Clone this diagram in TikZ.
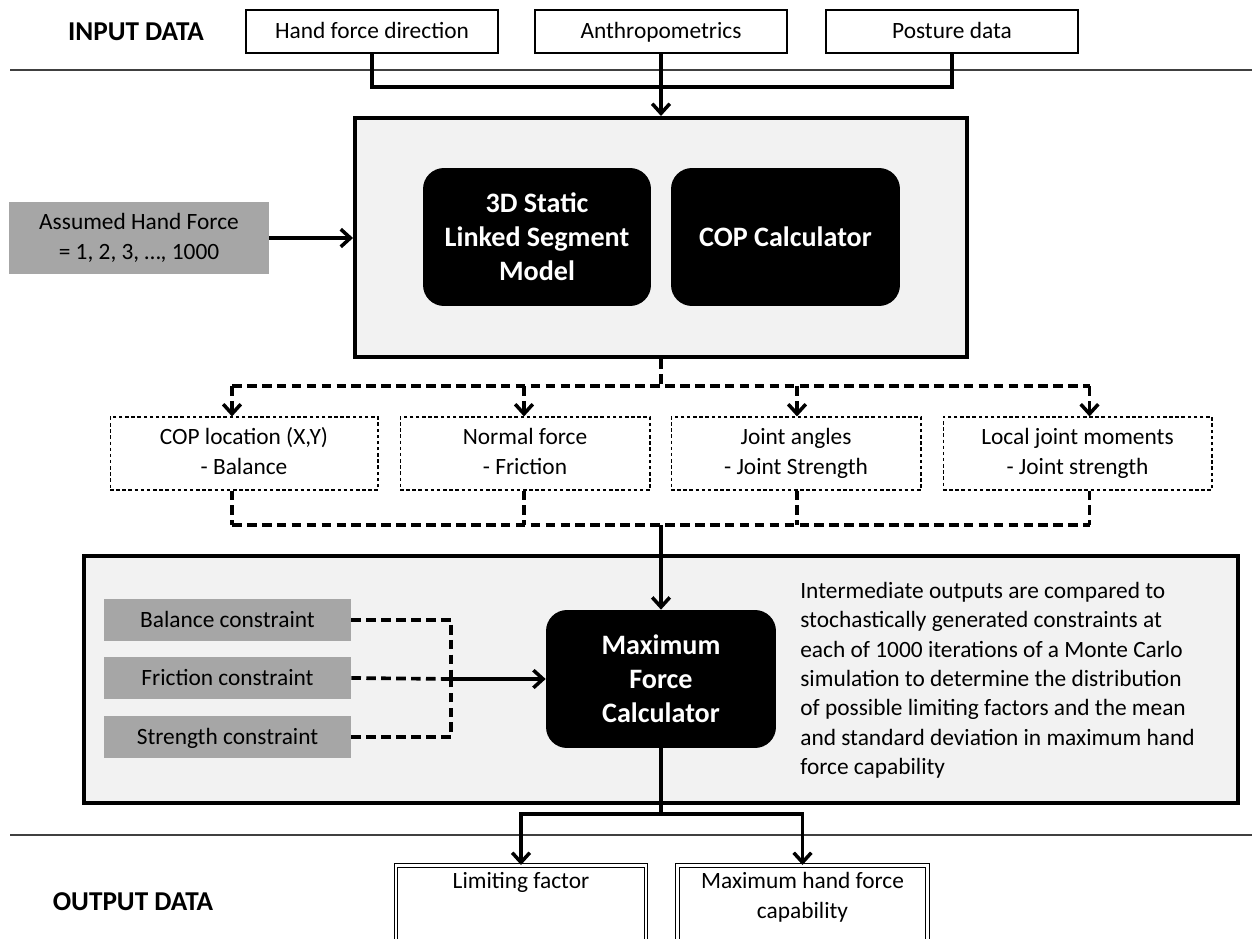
\documentclass[tikz,border=0pt]{standalone}
\usepackage{fontspec}
\setmainfont{Carlito}
\usepackage{xcolor}
\usepackage{tikz}
\usetikzlibrary{positioning, arrows.meta, calc}
\definecolor{panelgray}{HTML}{F2F2F2}
\definecolor{constrgray}{HTML}{A6A6A6}
\definecolor{rulegray}{HTML}{404040}

\begin{document}
\begin{tikzpicture}[x=0.02cm, y=-0.02cm,
  regular/.style={font=\fontsize{13.3}{16.8}\selectfont},
  heading/.style={font=\bfseries\fontsize{15.5}{18}\selectfont},
  inputbox/.style={draw, line width=1pt, regular, minimum width=5.04cm, minimum height=0.86cm,
                   text height=10.5pt, text depth=2.5pt},
  panel/.style={draw, fill=panelgray, line width=2.3pt},
  calcbox/.style={fill=black, text=white, rounded corners=0.42cm, align=center,
                  font=\bfseries\fontsize{16}{19.3}\selectfont},
  constrbox/.style={fill=constrgray, regular, minimum width=4.94cm, minimum height=0.86cm,
                    text height=10.5pt, text depth=2.5pt},
  dashbox/.style={draw, line width=0.6pt, dash pattern=on 2pt off 1.5pt, align=center,
                  regular, minimum height=1.46cm},
  outbox/.style={draw, double, double distance=1.3pt, line width=0.7pt, regular,
                 inner xsep=0.2cm, inner ysep=4pt, anchor=north},
  solidline/.style={line width=2.1pt},
  dashline/.style={line width=2.1pt, dash pattern=on 5.5pt off 3pt},
  headarrow/.style={-{Straight Barb[length=5.5pt,width=10pt,line width=2pt]}},
]
  \clip (0,0) rectangle (1252,939);

  % section rules and titles
  \draw[rulegray, line width=0.8pt] (10,70) -- (1252,70);
  \draw[rulegray, line width=0.8pt] (10,835) -- (1252,835);
  \node[heading] (indata) at (136,32) {INPUT DATA};
  \node[heading] (outdata) at (133,902) {OUTPUT DATA};

  % inputs
  \node[inputbox] (hfd)  at (372,31.5) {Hand force direction};
  \node[inputbox] (anth) at (661,31.5) {Anthropometrics};
  \node[inputbox] (post) at (952,31.5) {Posture data};

  % model panel
  \node[panel, minimum width=12.24cm, minimum height=4.78cm] (model) at (661,237.5) {};
  \node[calcbox, minimum width=4.56cm, minimum height=2.76cm] (lsm) at (537,237) {3D Static\\Linked Segment\\Model};
  \node[calcbox, minimum width=4.58cm, minimum height=2.76cm] (copc) at (785.5,237) {COP Calculator};
  \node[fill=constrgray, minimum width=5.2cm, minimum height=1.44cm, align=center,
        font=\fontsize{13.3}{17.2}\selectfont] (ahf) at (139,238) {Assumed Hand Force\\= 1, 2, 3, \dots, 1000};

  \coordinate (injoin) at (661,87);
  \draw[solidline] (hfd.south) |- (injoin) -| (post.south);
  \draw[solidline, headarrow] (anth.south) -- (model.north);
  \draw[solidline, headarrow] (ahf.east) -- (ahf.east -| model.west);

  % intermediate outputs
  \node[dashbox, minimum width=5.36cm] (copl) at (244,453.5) {\strut COP location (X,Y)\\\strut - Balance};
  \node[dashbox, minimum width=5.0cm] (nrm) at (525,453.5) {\strut Normal force\\\strut - Friction};
  \node[dashbox, minimum width=5.0cm] (ang) at (796,453.5) {\strut Joint angles\\\strut - Joint Strength};
  \node[dashbox, minimum width=5.38cm] (ljm) at (1077.5,453.5) {\strut Local joint moments\\\strut - Joint strength};

  \coordinate (dsplit) at (661,386);
  \coordinate (dmerge) at (661,525);
  \draw[dashline] (model.south) -- (dsplit);
  \foreach \b/\dx in {copl/-12, nrm/-1, ang/1, ljm/12} {
    \coordinate (top\b) at ($(\b.north)+(\dx,0)$);
    \coordinate (bot\b) at ($(\b.south)+(\dx,0)$);
    \draw[dashline, headarrow] (top\b |- dsplit) -- (top\b);
    \draw[dashline] (bot\b) -- (bot\b |- dmerge);
  }
  \draw[dashline] (topcopl |- dsplit) -- (topljm |- dsplit);
  \draw[dashline] (botcopl |- dmerge) -- (botljm |- dmerge);

  % constraint panel
  \node[panel, minimum width=23.08cm, minimum height=4.94cm] (mcpanel) at (661,679.5) {};
  \node[calcbox, minimum width=4.6cm, minimum height=2.76cm] (maxf) at (661,679) {Maximum\\Force\\Calculator};
  \node[constrbox] (bal)  at (227.5,620) {Balance constraint};
  \node[constrbox] (fric) at (227.5,678) {Friction constraint};
  \node[constrbox] (strc) at (227.5,737) {Strength constraint};
  \node[anchor=north west, align=left, inner sep=0pt, regular,
        font=\fontsize{13.3}{16.7}\selectfont] (note) at (800,582)
    {Intermediate outputs are compared to\\
     stochastically generated constraints at\\
     each of 1000 iterations of a Monte Carlo\\
     simulation to determine the distribution\\
     of possible limiting factors and the mean\\
     and standard deviation in maximum hand\\
     force capability};

  \draw[solidline, headarrow] (dmerge) -- (maxf.north);
  \coordinate (cjoin) at (451,679);
  \draw[dashline] (bal.east) -| (cjoin);
  \draw[dashline] (strc.east) -| (cjoin);
  \draw[dashline] (fric.east) -- (cjoin);
  \draw[solidline, headarrow] (cjoin) -- (maxf.west);

  % outputs
  \node[outbox] (limf) at (521,865) {\parbox[t][1.8cm][t]{4.6cm}{\centering Limiting factor}};
  \node[outbox] (mhfc) at (802.5,865) {\parbox[t][1.8cm][t]{4.6cm}{\centering Maximum hand force\\capability}};

  \coordinate (osplit) at (661,814);
  \draw[solidline] (maxf.south) -- (osplit);
  \draw[solidline, headarrow] (osplit) -| (limf.north);
  \draw[solidline, headarrow] (osplit) -| (mhfc.north);
\end{tikzpicture}
\end{document}
